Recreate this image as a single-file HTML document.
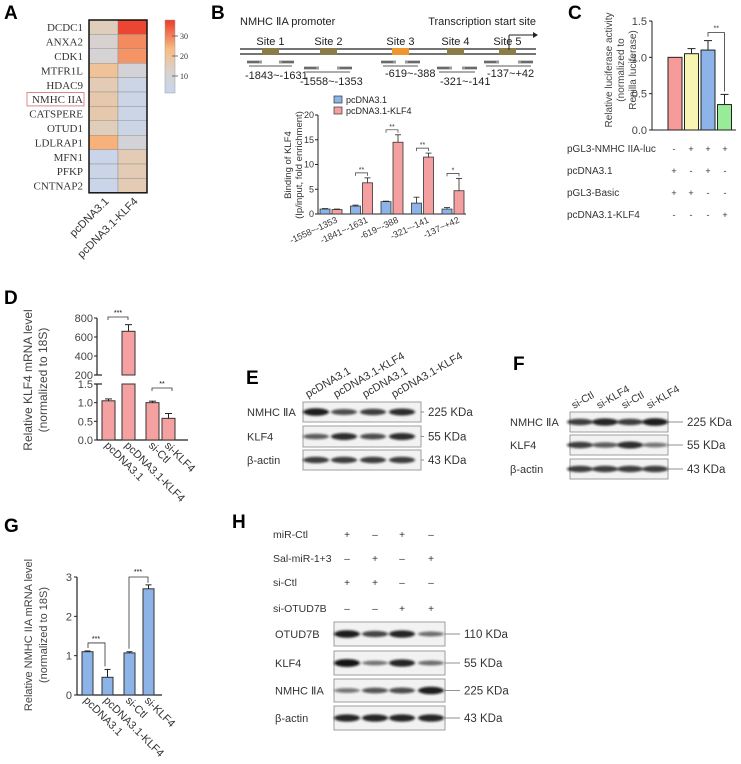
<!DOCTYPE html>
<html><head><meta charset="utf-8"><style>
html,body{margin:0;padding:0;background:#fff}
svg{display:block;font-family:"Liberation Sans",Arial,sans-serif}
</style></head><body>
<svg id="fig" width="741" height="764" viewBox="0 0 741 764" xmlns="http://www.w3.org/2000/svg">
<defs>
<filter id="blur" x="-20%" y="-100%" width="140%" height="300%"><feGaussianBlur stdDeviation="1.3 1"/></filter>
<linearGradient id="cbar" x1="0" y1="1" x2="0" y2="0">
<stop offset="0" stop-color="#c6d6f0"/><stop offset="0.3" stop-color="#d9d2cc"/><stop offset="0.6" stop-color="#f8bd82"/><stop offset="1" stop-color="#ec3b2c"/></linearGradient>
</defs>
<g font-weight="bold" font-size="19">
<text x="4" y="19">A</text><text x="211" y="19">B</text><text x="568" y="19">C</text>
<text x="4" y="304">D</text><text x="246" y="384">E</text><text x="513" y="370">F</text>
<text x="4" y="532">G</text><text x="232" y="528">H</text></g>
<g id="A"></g>
<g id="B"></g>
<g id="C"></g>
<g id="D"></g>
<g id="E"></g>
<g id="F"></g>
<g id="G"></g>
<g id="H"></g>
</svg>
<script>
// ---- data ----
const heatGenes=["DCDC1","ANXA2","CDK1","MTFR1L","HDAC9","NMHC IIA","CATSPERE","OTUD1","LDLRAP1","MFN1","PFKP","CNTNAP2"];
const heatCtl=[15,12,11,20,16,17,17,15,24,5,6,5];
const heatKlf=[35,28,27,10,6,6,6,6,10,16,16,16];
const chipCats=["-1558~-1353","-1841~-1631","-619~-388","-321~-141","-137~+42"];
const chipCtl=[1.0,1.6,2.5,2.2,1.0];
const chipCtlErr=[0.1,0.2,0.1,1.2,0.3];
const chipKlf=[0.9,6.3,14.5,11.5,4.7];
const chipKlfErr=[0.1,1.0,1.5,0.8,2.5];
const chipStars=["","**","**","**","*"];
const chipTicks=[0,5,10,15,20];
const lucVals=[1.0,1.05,1.1,0.35];
const lucErr=[0,0.07,0.13,0.14];
const lucTicks=[0,0.5,1.0,1.5];
const lucRows=["pGL3-NMHC IIA-luc","pcDNA3.1","pGL3-Basic","pcDNA3.1-KLF4"];
const lucSigns=[["-","+","+","+"],["+","-","+","-"],["+","+","-","-"],["-","-","-","+"]];
const dCats=["pcDNA3.1","pcDNA3.1-KLF4","si-Ctl","si-KLF4"];
const dVals=[1.05,660,1.0,0.58];
const dErr=[0.05,70,0.04,0.13];
const dTicksLow=[0,0.5,1.0,1.5];
const dTicksHigh=[200,400,600,800];
const gVals=[1.1,0.45,1.07,2.7];
const gErr=[0.02,0.2,0.03,0.1];
const gTicks=[0,1,2,3];

const NS="http://www.w3.org/2000/svg";
function mk(p,tag,at,txt){const e=document.createElementNS(NS,tag);for(const k in at)e.setAttribute(k,at[k]);if(txt!==undefined)e.textContent=txt;p.appendChild(e);return e;}
const line=(p,x1,y1,x2,y2,w,c)=>mk(p,'line',{x1,y1,x2,y2,stroke:c||'#222','stroke-width':w||1});

// ---- A heatmap ----
(function(){
const g=document.getElementById('A');
const x0=89,y0=20,cw=29,rh=14.4;
function col(v){const t=Math.max(0,Math.min(1,(v-3)/33));
 const st=[[0,[198,214,240]],[0.3,[217,210,204]],[0.6,[248,189,130]],[1,[236,59,44]]];
 for(let i=1;i<st.length;i++){if(t<=st[i][0]){const a=st[i-1],b=st[i];const f=(t-a[0])/(b[0]-a[0]);return 'rgb('+a[1].map((c,j)=>Math.round(c+(b[1][j]-c)*f)).join(',')+')';}}}
heatGenes.forEach((gn,i)=>{
 const y=y0+i*rh;
 const c1=mk(g,'rect',{x:x0,y:y,width:cw,height:rh,fill:col(heatCtl[i]),stroke:'#888','stroke-width':0.4});
 
 const c2=mk(g,'rect',{x:x0+cw,y:y,width:cw,height:rh,fill:col(heatKlf[i]),stroke:'#888','stroke-width':0.4});
 
 const t=mk(g,'text',{x:83,y:y+rh/2+4,'text-anchor':'end','font-size':11,'font-family':'Liberation Serif,serif',fill:'#333'},gn);
 
});
mk(g,'rect',{x:x0,y:y0,width:2*cw,height:12*rh,fill:'none',stroke:'#111','stroke-width':1.5});
const b=mk(g,'rect',{x:27,y:y0+5*rh+0.5,width:57,height:rh-1,fill:'none',stroke:'#d88','stroke-width':1});

const cb=mk(g,'rect',{x:165,y:20,width:10,height:73,fill:'url(#cbar)',stroke:'#999','stroke-width':0.5});

[[30,36],[20,56],[10,76]].forEach(([v,y])=>{line(g,172,y,178,y,0.8,'#555');mk(g,'text',{x:180,y:y+3,'font-size':8,'font-family':'Liberation Serif,serif',fill:'#333'},v);});
['pcDNA3.1','pcDNA3.1-KLF4'].forEach((s,i)=>{const x=x0+cw*i+cw/2+6,y=202;
 mk(g,'text',{x:x,y:y,'text-anchor':'end','font-size':11,fill:'#333',transform:`rotate(-45 ${x} ${y})`},s);});
})();

// ---- B ----
(function(){
const g=document.getElementById('B');
mk(g,'text',{x:240,y:25,'font-size':11,fill:'#222'},'NMHC ⅡA promoter');
mk(g,'text',{x:536,y:25,'text-anchor':'end','font-size':11,fill:'#222'},'Transcription start site');
line(g,240,49,536,49,1.2);line(g,240,54,536,54,1.2);
const sites=[[262,'Site 1','#8b7d4a'],[320,'Site 2','#8b7d4a'],[392,'Site 3','#f0962e'],[447,'Site 4','#8b7d4a'],[499,'Site 5','#8b7d4a']];
sites.forEach(([x,l,c])=>{mk(g,'rect',{x:x,y:48,width:17,height:7,fill:c});mk(g,'text',{x:x+8.5,y:45,'text-anchor':'middle','font-size':11,fill:'#222'},l);});
line(g,509,50,509,35,1);line(g,509,35,533,35,1);mk(g,'path',{d:'M533,32 L538,35 L533,38Z',fill:'#222'});
const pr=[[247,294,62,'-1843~-1631',245,79],[304,352,68,'-1558~-1353',300,85],[381,420,62,'-619~-388',385,77],[437,477,68,'-321~-141',440,85],[484,533,62,'-137~+42',487,77]];
pr.forEach(([a,b2,y,l,tx,ty])=>{mk(g,'rect',{x:a,y:y-1.5,width:15,height:3,fill:'#999'});mk(g,'rect',{x:b2-15,y:y-1.5,width:15,height:3,fill:'#999'});
 line(g,a,y,a+12,y,0.8);line(g,b2-12,y,b2,y,0.8);line(g,a+2,y+4,b2-2,y+4,0.8);mk(g,'text',{x:tx,y:ty,'font-size':11,fill:'#222'},l);});
// chart
const ax=318,y0=214,yT=115,ymax=20;const ys=v=>y0-(v/ymax)*(y0-yT);
line(g,ax,yT,ax,y0,1);line(g,ax,y0,466,y0,1);
chipTicks.forEach(t=>{line(g,ax-3,ys(t),ax,ys(t),1);mk(g,'text',{x:ax-4,y:ys(t)+3,'text-anchor':'end','font-size':9,fill:'#333'},t);});
const gx=i=>320+i*30.5;
chipCats.forEach((c,i)=>{
 [[chipCtl,chipCtlErr,'#8db4e8',0,'bar-pcdna'],[chipKlf,chipKlfErr,'#f4a0a0',12,'bar-klf4']].forEach(([v,e,col,off,nm])=>{
  const x=gx(i)+off,w=10,y=ys(v[i]);
  const r=mk(g,'rect',{x:x,y:y,width:w,height:y0-y,fill:col,stroke:'#333','stroke-width':0.8});
  
  const ye=ys(v[i]+e[i]);line(g,x+w/2,y,x+w/2,ye,0.8);line(g,x+2,ye,x+w-2,ye,0.8);});
 if(chipStars[i]){const top=ys(chipKlf[i]+chipKlfErr[i])-5;const xa=gx(i)+5,xb=gx(i)+17;
  mk(g,'path',{d:`M${xa},${top+3} L${xa},${top} L${xb},${top} L${xb},${top+3}`,fill:'none',stroke:'#333','stroke-width':0.7});
  mk(g,'text',{x:(xa+xb)/2,y:top-1,'text-anchor':'middle','font-size':7,fill:'#333'},chipStars[i]);}
 const lx=gx(i)+18,ly=222;mk(g,'text',{x:lx,y:ly,'text-anchor':'end','font-size':9,fill:'#333',transform:`rotate(-25 ${lx} ${ly})`},c);
});
mk(g,'rect',{x:334,y:96,width:8,height:7,fill:'#8db4e8',stroke:'#333','stroke-width':0.7});mk(g,'text',{x:346,y:103,'font-size':9,fill:'#222'},'pcDNA3.1');
mk(g,'rect',{x:334,y:107,width:8,height:7,fill:'#f4a0a0',stroke:'#333','stroke-width':0.7});mk(g,'text',{x:346,y:114,'font-size':9,fill:'#222'},'pcDNA3.1-KLF4');
mk(g,'text',{x:291,y:165,'text-anchor':'middle','font-size':9.5,fill:'#333',transform:'rotate(-90 291 165)'},'Binding of KLF4');
mk(g,'text',{x:302,y:165,'text-anchor':'middle','font-size':9.5,fill:'#333',transform:'rotate(-90 302 165)'},'(Ip/input, fold enrichment)');
})();

// ---- C ----
(function(){
const g=document.getElementById('C');
const ax=652,y0=130,yT=21,ymax=1.5;const ys=v=>y0-(v/ymax)*(y0-yT);
line(g,ax,yT,ax,y0,1);line(g,ax,y0,736,y0,1);
lucTicks.forEach(t=>{line(g,ax-3,ys(t),ax,ys(t),1);mk(g,'text',{x:ax-5,y:ys(t)+4,'text-anchor':'end','font-size':11,fill:'#444'},t.toFixed(1));});
const cols=['#f69a9a','#f7f5b2','#8db4e8','#98ec98'];
lucVals.forEach((v,i)=>{const x=668+i*16.5,w=14,y=ys(v);
 const r=mk(g,'rect',{x:x,y:y,width:w,height:y0-y,fill:cols[i],stroke:'#222','stroke-width':1});
 
 if(lucErr[i]>0){const ye=ys(v+lucErr[i]);line(g,x+w/2,y,x+w/2,ye,1);line(g,x+3,ye,x+w-3,ye,1);}});
const top=ys(Math.max(lucVals[2]+lucErr[2]))-8,xa=668+2*16.5+7,xb=668+3*16.5+7;
mk(g,'path',{d:`M${xa},${top+4} L${xa},${top} L${xb},${top} L${xb},${ys(lucVals[3]+lucErr[3])-3}`,fill:'none',stroke:'#333','stroke-width':0.8});
mk(g,'text',{x:(xa+xb)/2,y:top-2,'text-anchor':'middle','font-size':7,fill:'#333'},'**');
mk(g,'text',{x:612,y:70,'text-anchor':'middle','font-size':10,fill:'#444',transform:'rotate(-90 612 70)'},'Relative luciferase activity');
mk(g,'text',{x:624,y:70,'text-anchor':'middle','font-size':10,fill:'#444',transform:'rotate(-90 624 70)'},'(normalized to');
mk(g,'text',{x:636,y:70,'text-anchor':'middle','font-size':10,fill:'#444',transform:'rotate(-90 636 70)'},'Renilla luciferase)');
lucRows.forEach((r,j)=>{const y=152+j*22;mk(g,'text',{x:567,y:y,'font-size':10,fill:'#333'},r);
 lucSigns[j].forEach((s,i)=>mk(g,'text',{x:674+i*17,y:y,'text-anchor':'middle','font-size':9,fill:'#333'},s));});
})();

// ---- D ----
(function(){
const g=document.getElementById('D');
const ax=97,yb0=440,ybT=384,yh0=375,yhT=318;
const ysL=v=>yb0-(v/1.5)*(yb0-ybT);const ysH=v=>yh0-((v-200)/600)*(yh0-yhT);
line(g,ax,yhT,ax,yh0,1.2);line(g,ax,ybT,ax,yb0,1.2);line(g,ax,yb0,188,yb0,1.2);
line(g,ax-3,yh0,ax+5,yh0,1.2);line(g,ax-3,ybT,ax+5,ybT,1.2);
dTicksHigh.forEach(t=>{line(g,ax-3,ysH(t),ax,ysH(t),1);mk(g,'text',{x:ax-4,y:ysH(t)+4,'text-anchor':'end','font-size':11,fill:'#444'},t);});
dTicksLow.forEach(t=>{line(g,ax-3,ysL(t),ax,ysL(t),1);mk(g,'text',{x:ax-4,y:ysL(t)+4,'text-anchor':'end','font-size':11,fill:'#444'},t.toFixed(1));});
const xs=[102,122,146,162];
dCats.forEach((c,i)=>{const x=xs[i],w=13,v=dVals[i];
 if(v<=1.5){const y=ysL(v);const r=mk(g,'rect',{x:x,y:y,width:w,height:yb0-y,fill:'#f6a1a1',stroke:'#333','stroke-width':1});
  
  const ye=ysL(v+dErr[i]);line(g,x+w/2,y,x+w/2,ye,1);line(g,x+3,ye,x+w-3,ye,1);}
 else{const y=ysH(v);const r1=mk(g,'rect',{x:x,y:y,width:w,height:yh0-y,fill:'#f6a1a1',stroke:'#333','stroke-width':1});
  
  const r2=mk(g,'rect',{x:x,y:ybT,width:w,height:yb0-ybT,fill:'#f6a1a1',stroke:'#333','stroke-width':1});
  
  const ye=ysH(v+dErr[i]);line(g,x+w/2,y,x+w/2,ye,1);line(g,x+3,ye,x+w-3,ye,1);}
 const lx=x+2,ly=446;mk(g,'text',{x:lx,y:ly,'font-size':11,fill:'#333',transform:`rotate(45 ${lx} ${ly})`},c);});
mk(g,'path',{d:'M108,320 L108,317 L128,317 L128,320',fill:'none',stroke:'#333','stroke-width':0.8});mk(g,'text',{x:118,y:315,'text-anchor':'middle','font-size':7},'***');
mk(g,'path',{d:'M152,391 L152,388 L172,388 L172,391',fill:'none',stroke:'#333','stroke-width':0.8});mk(g,'text',{x:162,y:386,'text-anchor':'middle','font-size':7},'**');
mk(g,'text',{x:32,y:380,'text-anchor':'middle','font-size':12,fill:'#444',transform:'rotate(-90 32 380)'},'Relative KLF4 mRNA  level');
mk(g,'text',{x:47,y:380,'text-anchor':'middle','font-size':12,fill:'#444',transform:'rotate(-90 47 380)'},'(normalized to 18S)');
})();

// ---- western blots ----
function blot(g,labels,boxX,boxW,rows,colsX,inten,kda,lblX,kdaX,fs){
 rows.forEach(([y,h],j)=>{
  const bx=mk(g,'rect',{x:boxX,y:y,width:boxW,height:h,fill:'#f2f2f2',stroke:'#888','stroke-width':0.8});
  
  colsX.forEach((cx,i)=>{const a=inten[j][i];
   mk(g,'ellipse',{cx:cx,cy:y+h/2,rx:13,ry:1.5+2.5*a,fill:'#111',opacity:0.3+0.7*a,filter:'url(#blur)'});});
  mk(g,'text',{x:lblX,y:y+h/2+4,'font-size':fs||11,fill:'#333'},labels[j]);
  line(g,boxX+boxW,y+h/2,kdaX-4,y+h/2,0.8,'#777');
  mk(g,'text',{x:kdaX,y:y+h/2+4,'font-size':11.5,fill:'#333'},kda[j]);
 });
}
(function(){
const g=document.getElementById('E');
const cx=[316,344,373,402];
blot(g,['NMHC ⅡA','KLF4','β-actin'],303,118,[[402,20],[426,21],[450,20]],cx,[[0.9,0.6,0.7,0.8],[0.5,0.8,0.6,0.8],[0.7,0.7,0.7,0.7]],['225 KDa','55 KDa','43 KDa'],247,428);
['pcDNA3.1','pcDNA3.1-KLF4','pcDNA3.1','pcDNA3.1-KLF4'].forEach((s,i)=>{const x=cx[i]-8,y=398;mk(g,'text',{x:x,y:y,'font-size':11,fill:'#333',transform:`rotate(-30 ${x} ${y})`},s);});
})();
(function(){
const g=document.getElementById('F');
const cx=[580,605,630,655];
blot(g,['NMHC ⅡA','KLF4','β-actin'],570,98,[[412,20],[435,20],[459,20]],cx,[[0.7,0.85,0.7,0.9],[0.7,0.5,0.8,0.35],[0.7,0.7,0.7,0.7]],['225 KDa','55 KDa','43 KDa'],510,687);
['si-Ctl','si-KLF4','si-Ctl','si-KLF4'].forEach((s,i)=>{const x=cx[i]-6,y=409;mk(g,'text',{x:x,y:y,'font-size':10.5,fill:'#333',transform:`rotate(-30 ${x} ${y})`},s);});
})();

// ---- G ----
(function(){
const g=document.getElementById('G');
const ax=77,y0=695,yT=577;const ys=v=>y0-(v/3)*(y0-yT);
line(g,ax,yT,ax,y0,1.2);line(g,ax,y0,162,y0,1.2);
gTicks.forEach(t=>{line(g,ax-3,ys(t),ax,ys(t),1);mk(g,'text',{x:ax-5,y:ys(t)+4,'text-anchor':'end','font-size':11,fill:'#444'},t);});
const xs=[82,102,124,143],cats=['pcDNA3.1','pcDNA3.1-KLF4','si-Ctl','si-KLF4'];
gVals.forEach((v,i)=>{const x=xs[i],w=11,y=ys(v);
 const r=mk(g,'rect',{x:x,y:y,width:w,height:y0-y,fill:'#8db4e8',stroke:'#333','stroke-width':1});
 
 const ye=ys(v+gErr[i]);line(g,x+w/2,y,x+w/2,ye,1);line(g,x+2.5,ye,x+w-2.5,ye,1);
 const lx=x+1,ly=701;mk(g,'text',{x:lx,y:ly,'font-size':11,fill:'#333',transform:`rotate(45 ${lx} ${ly})`},cats[i]);});
mk(g,'path',{d:`M88,${ys(1.12)-3} L88,${ys(1.12)-8} L105,${ys(1.12)-8} L105,${ys(gVals[1]+gErr[1])-3}`,fill:'none',stroke:'#333','stroke-width':0.8});
mk(g,'text',{x:96,y:ys(1.12)-10,'text-anchor':'middle','font-size':7},'***');
mk(g,'path',{d:`M129,${ys(1.1)-3} L129,${ys(3)} L148,${ys(3)} L148,${ys(gVals[3]+gErr[3])-2}`,fill:'none',stroke:'#333','stroke-width':0.8});
mk(g,'text',{x:138,y:ys(3)-3,'text-anchor':'middle','font-size':7},'***');
mk(g,'text',{x:32,y:635,'text-anchor':'middle','font-size':11,fill:'#444',transform:'rotate(-90 32 635)'},'Relative NMHC IIA mRNA level');
mk(g,'text',{x:47,y:635,'text-anchor':'middle','font-size':11,fill:'#444',transform:'rotate(-90 47 635)'},'(normalized to 18S)');
})();

// ---- H ----
(function(){
const g=document.getElementById('H');
const cx=[347,375,402,431];
const rows=['miR-Ctl','Sal-miR-1+3','si-Ctl','si-OTUD7B'];
const sg=[['+','–','+','–'],['–','+','–','+'],['+','+','–','–'],['–','–','+','+']];
rows.forEach((r,j)=>{const y=538+j*24+(j==3?2:0);mk(g,'text',{x:273,y:y,'font-size':10.5,fill:'#333'},r);
 sg[j].forEach((s,i)=>mk(g,'text',{x:cx[i],y:y,'text-anchor':'middle','font-size':10,fill:'#333'},s));});
blot(g,['OTUD7B','KLF4','NMHC ⅡA','β-actin'],334,111,[[622,24],[651,24],[679,23],[706,24]],cx,[[0.9,0.65,0.85,0.4],[0.95,0.35,0.85,0.4],[0.35,0.55,0.6,0.9],[0.85,0.85,0.85,0.85]],['110 KDa','55 KDa','225 KDa','43 KDa'],275,464);
})();
</script>
</body></html>
